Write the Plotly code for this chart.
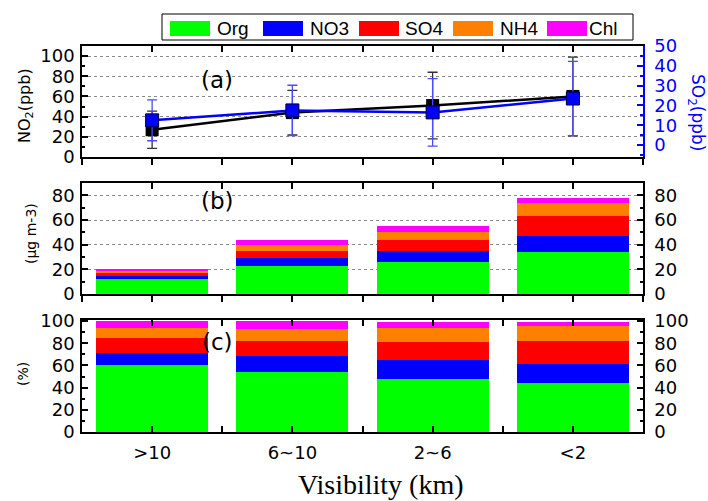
import plotly.graph_objects as go

# ---------------- data ----------------
categories = ['>10', '6~10', '2~6', '<2']

no2 = [27, 44, 51, 60]
no2_err = [18.5, 22, 33, 39]
so2 = [12.5, 17.5, 16.5, 23.5]
so2_err = [10.3, 12.7, 17, 18.7]

species = ['Org', 'NO3', 'SO4', 'NH4', 'Chl']
colors = ['#00FF00', '#0000FF', '#FF0000', '#FF8000', '#FF00FF']

org = [12.3, 23.0, 25.6, 34.2]
no3 = [2.3, 6.4, 9.1, 13.2]
so4 = [2.8, 5.6, 8.7, 15.6]
nh4 = [1.8, 5.1, 7.0, 10.5]
chl = [1.3, 3.5, 4.6, 4.6]

org_pct = [60, 54, 48, 44.5]
no3_pct = [11, 14.2, 16.6, 17.1]
so4_pct = [13.8, 13.8, 16.4, 20.1]
nh4_pct = [9, 11.1, 12.7, 13.8]
chl_pct = [6.2, 6.9, 5.6, 3.8]

mass = [org, no3, so4, nh4, chl]
pct = [org_pct, no3_pct, so4_pct, nh4_pct, chl_pct]

xpos = list(range(len(categories)))

# ---------------- layout helpers ----------------
W, H = 708, 501
L, R, T, B = 82, 65, 46, 69
PW, PH = W - L - R, H - T - B


def px(X):
    return (X - L) / PW


def py(Y):
    return (H - B - Y) / PH


FONT = 'DejaVu Sans'

fig = go.Figure()

# panel (a)
fig.add_trace(go.Scatter(
    x=xpos, y=no2, mode='lines+markers', xaxis='x', yaxis='y',
    line=dict(color='black', width=2.5),
    marker=dict(symbol='square', size=13, color='black'),
    error_y=dict(type='data', array=no2_err, color='#333333', thickness=1.3, width=5),
    showlegend=False))
fig.add_trace(go.Scatter(
    x=xpos, y=so2, mode='lines+markers', xaxis='x', yaxis='y4',
    line=dict(color='#0000FF', width=2.5),
    marker=dict(symbol='square', size=13, color='#0000FF', line=dict(color='#000033', width=1)),
    error_y=dict(type='data', array=so2_err, color='#4a4aff', thickness=1.3, width=5),
    showlegend=False))

# panel (b) and (c)
for name, col, m, p in zip(species, colors, mass, pct):
    fig.add_trace(go.Bar(x=xpos, y=m, name=name, marker=dict(color=col, line=dict(width=0)),
                         width=0.8, xaxis='x2', yaxis='y2', showlegend=False))
    fig.add_trace(go.Bar(x=xpos, y=p, name=name, marker=dict(color=col, line=dict(width=0)),
                         width=0.8, xaxis='x3', yaxis='y3', showlegend=False))

# empty traces to make helper axes appear
for xa, ya in [('x4', 'y'), ('x5', 'y2'), ('x6', 'y3'), ('x2', 'y5'), ('x3', 'y6')]:
    fig.add_trace(go.Scatter(x=[None], y=[None], xaxis=xa, yaxis=ya, showlegend=False,
                             hoverinfo='skip'))

tickfont = dict(family=FONT, size=18, color='black')

dom_a = [py(157), 1]
dom_b = [py(294), py(183)]
dom_c = [0, py(320)]

xcommon = dict(range=[-0.5, 3.5], tickmode='array', tickvals=xpos, ticktext=categories,
               showgrid=False, zeroline=False, showline=True, linecolor='black', linewidth=1.5,
               ticklen=6, tickwidth=1.5, tickcolor='black', tickfont=tickfont)


def xax(anchor, ticks, labels, overlay=None, side='bottom'):
    d = dict(xcommon)
    d.update(anchor=anchor, ticks=ticks, showticklabels=labels, side=side,
             minor=dict(tick0=0.5, dtick=1, ticks=ticks, ticklen=6, tickwidth=1.5, tickcolor='black'))
    if overlay:
        d['overlaying'] = overlay
    return d


def yax(domain, rng, dtick, minor, side='left', color='black', grid=True, overlay=None,
        anchor='x', tickvals=None, standoff=2):
    d = dict(domain=domain, range=rng, anchor=anchor, side=side, ticks='inside',
             ticklen=6, tickwidth=1.5, tickcolor=color, showline=True, linecolor=color,
             linewidth=1.5, zeroline=False, tickfont=dict(family=FONT, size=18, color=color),
             showgrid=grid, gridcolor='#8a8a8a', griddash='dot', gridwidth=1,
             minor=dict(dtick=minor, ticks='inside', ticklen=3.5, tickwidth=1.5, tickcolor=color),
             ticklabelstandoff=standoff)
    if tickvals is not None:
        d.update(tickmode='array', tickvals=tickvals)
    else:
        d.update(dtick=dtick, tick0=0)
    if overlay:
        d['overlaying'] = overlay
        d.pop('domain')
    return d


fig.update_layout(
    width=W, height=H, margin=dict(l=L, r=R, t=T, b=B),
    paper_bgcolor='white', plot_bgcolor='white', barmode='stack', bargap=0.2,
    font=dict(family=FONT, color='black'),
    xaxis=xax('y', 'outside', False),
    xaxis2=xax('y2', 'outside', False),
    xaxis3=xax('y3', 'inside', True),
    xaxis4=xax('y', 'inside', False, overlay='x', side='top'),
    xaxis5=xax('y2', 'inside', False, overlay='x2', side='top'),
    xaxis6=xax('y3', 'inside', False, overlay='x3', side='top'),
    yaxis=yax(dom_a, [0, 110], 20, 10, tickvals=[0, 20, 40, 60, 80, 100]),
    yaxis4=yax(dom_a, [-6, 50], 10, 5, side='right', color='#0000FF', grid=False,
               overlay='y', standoff=6),
    yaxis2=yax(dom_b, [0, 90], 20, 10, anchor='x2'),
    yaxis5=yax(dom_b, [0, 90], 20, 10, side='right', grid=False, overlay='y2',
               anchor='x2', standoff=6),
    yaxis3=yax(dom_c, [0, 101], 20, 10, grid=False, anchor='x3',
               tickvals=[0, 20, 40, 60, 80, 100]),
    yaxis6=yax(dom_c, [0, 101], 20, 10, side='right', grid=False, overlay='y3',
               anchor='x3', standoff=6, tickvals=[0, 20, 40, 60, 80, 100]),
)
fig.update_xaxes(ticklabelstandoff=4)

# ---------------- legend (drawn as shapes + text) ----------------
shapes = [dict(type='rect', xref='paper', yref='paper', x0=px(162), x1=px(633),
               y0=py(40), y1=py(14), line=dict(color='black', width=1), fillcolor='white',
               layer='below')]
sw_x = [170, 263, 359, 453, 547]
tx_x = [216, 309, 404, 499, 588]
annotations = []
for name, col, sx, tx in zip(species, colors, sw_x, tx_x):
    shapes.append(dict(type='rect', xref='paper', yref='paper', x0=px(sx), x1=px(sx + 40),
                       y0=py(36), y1=py(21), line=dict(width=0), fillcolor=col, layer='below'))
    annotations.append(dict(text=name, xref='paper', yref='paper', x=px(tx), y=py(28),
                            xanchor='left', yanchor='middle', showarrow=False, borderpad=0,
                            font=dict(family='Liberation Sans', size=19, color='black')))

# panel labels
for lab, Y in [('(a)', 80), ('(b)', 201), ('(c)', 342)]:
    annotations.append(dict(text=lab, xref='paper', yref='paper', x=px(217), y=py(Y),
                            xanchor='center', yanchor='middle', showarrow=False,
                            font=dict(family=FONT, size=23, color='black')))

# axis titles
annotations += [
    dict(text='NO<sub>2</sub>(ppb)', xref='paper', yref='paper', x=px(25), y=py(106),
         textangle=-90, showarrow=False, xanchor='center', yanchor='middle',
         font=dict(family=FONT, size=16, color='black')),
    dict(text='SO<sub>2</sub>(ppb)', xref='paper', yref='paper', x=px(697), y=py(112),
         textangle=90, showarrow=False, xanchor='center', yanchor='middle',
         font=dict(family=FONT, size=17, color='#0000FF')),
    dict(text='(\u03bcg m-3)', xref='paper', yref='paper', x=px(31), y=py(234),
         textangle=-90, showarrow=False, xanchor='center', yanchor='middle',
         font=dict(family=FONT, size=14, color='black')),
    dict(text='(%)', xref='paper', yref='paper', x=px(23), y=py(374),
         textangle=-90, showarrow=False, xanchor='center', yanchor='middle',
         font=dict(family=FONT, size=14, color='black')),
    dict(text='Visibility (km)', xref='paper', yref='paper', x=px(381), y=py(484),
         showarrow=False, xanchor='center', yanchor='middle',
         font=dict(family='Liberation Serif', size=28, color='black')),
]

fig.update_layout(shapes=shapes, annotations=annotations)

fig.write_html('out.html', config={'displayModeBar': False},
               post_script="document.body.style.margin='0';document.body.style.overflow='hidden';")
